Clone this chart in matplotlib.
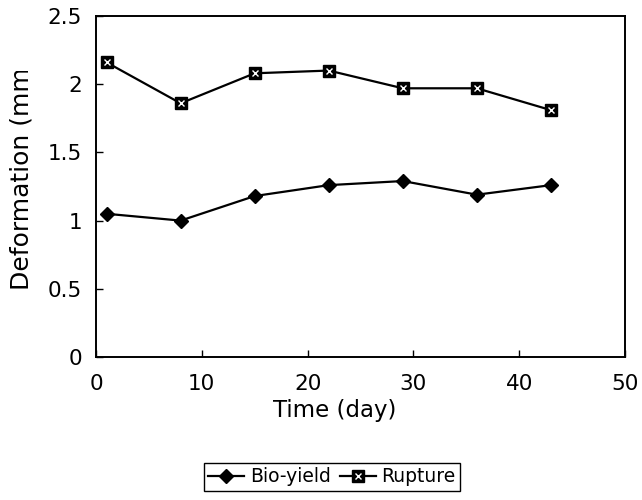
import matplotlib
matplotlib.use("Agg")
import matplotlib.pyplot as plt
from matplotlib.legend_handler import HandlerTuple
from matplotlib.transforms import Bbox, TransformedBbox

days = [1, 8, 15, 22, 29, 36, 43]
bio_yield = [1.05, 1.00, 1.18, 1.26, 1.29, 1.19, 1.26]
rupture = [2.16, 1.86, 2.08, 2.10, 1.97, 1.97, 1.81]

x_ticks = [0, 10, 20, 30, 40, 50]
y_ticks = [0, 0.5, 1, 1.5, 2, 2.5]
y_tick_labels = ["0", "0.5", "1", "1.5", "2", "2.5"]

plt.rcParams["font.family"] = ["DejaVu Sans"]

fig = plt.figure(figsize=(6.42, 5.0), dpi=100)
ax = fig.add_axes([0.1495, 0.286, 0.824, 0.682])

bio_line, = ax.plot(days, bio_yield, color="black", lw=1.6, marker="D",
                    ms=7, mfc="black", mec="black")
rup_line, = ax.plot(days, rupture, color="black", lw=1.6, marker="s",
                    ms=8.5, mfc="black", mec="black")
rup_dots, = ax.plot(days, rupture, ls="none", marker="x", ms=4.5,
                    mew=1.0, color="white")

ax.set_xlim(0, 50)
ax.set_ylim(0, 2.5)
ax.set_xticks(x_ticks)
ax.set_yticks(y_ticks)
ax.set_yticklabels(y_tick_labels)
ax.tick_params(direction="in", length=5, width=1, labelsize=15.5, colors="black")
ax.tick_params(axis="y", pad=10)
ax.tick_params(axis="x", pad=12)
for sp in ax.spines.values():
    sp.set_linewidth(1.4)
    sp.set_color("black")

fig.text(335 / 642, 1 - 410 / 500, "Time (day)", fontsize=16.5,
         ha="center", va="center")

# the axis title runs past the top of its box and is cut off there
ylab = fig.text(22 / 642, 1 - 290 / 500, "Deformation (mm)", fontsize=18,
                rotation=90, ha="center", va="bottom")
ylab.set_clip_box(TransformedBbox(Bbox([[0, 0], [1, 1 - 71 / 500]]),
                                  fig.transFigure))
ylab.set_clip_on(True)

leg = fig.legend([bio_line, (rup_line, rup_dots)], ["Bio-yield", "Rupture"],
                 handler_map={tuple: HandlerTuple(ndivide=1)},
                 loc="center", bbox_to_anchor=(332 / 642, 1 - 477 / 500),
                 ncol=2, fontsize=13.5, frameon=True, fancybox=False,
                 edgecolor="black", framealpha=1, handlelength=1.9,
                 handletextpad=0.3, columnspacing=0.5, borderpad=0.25,
                 borderaxespad=0)
leg.get_frame().set_linewidth(1.0)

fig.savefig("out.png", dpi=100)
